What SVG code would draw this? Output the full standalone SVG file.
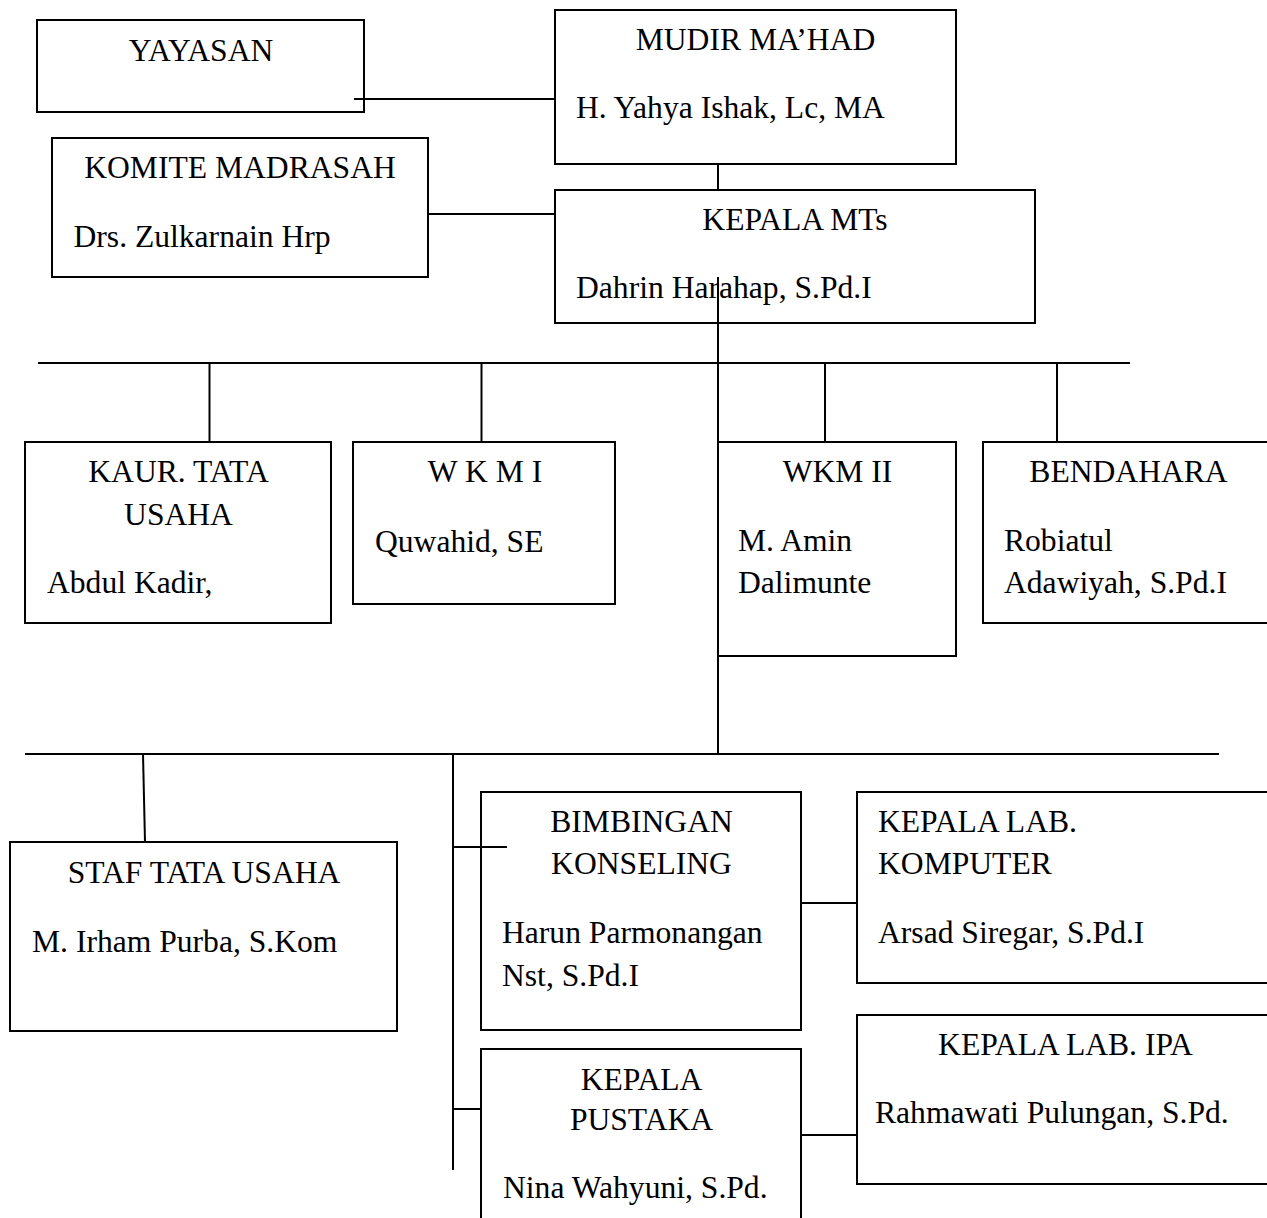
<svg xmlns="http://www.w3.org/2000/svg" width="1267" height="1218" viewBox="0 0 1267 1218">
<style>
rect.box{fill:#fff;stroke:#000;stroke-width:2}
#connectors line{stroke:#000;stroke-width:2}
text{font-family:"Liberation Serif","Times New Roman",serif;font-size:31.6px;fill:#000}
.c{text-anchor:middle}
</style>
<rect x="0" y="0" width="1267" height="1218" fill="#fff"/>
<g id="yayasan"><rect class="box" x="37" y="20" width="327" height="92"/><text class="c" x="201" y="61">YAYASAN</text></g>
<g id="mudir"><rect class="box" x="555" y="10" width="401" height="154"/><text class="c" x="755.5" y="50">MUDIR MA’HAD</text><text x="576" y="118">H. Yahya Ishak, Lc, MA</text></g>
<g id="komite"><rect class="box" x="52" y="138" width="376" height="139"/><text class="c" x="240" y="178">KOMITE MADRASAH</text><text x="73.5" y="247">Drs. Zulkarnain Hrp</text></g>
<g id="kepala-mts"><rect class="box" x="555" y="190" width="480" height="133"/><text class="c" x="795" y="230">KEPALA MTs</text><text x="576" y="298">Dahrin Harahap, S.Pd.I</text></g>
<g id="kaur"><rect class="box" x="25" y="442" width="306" height="181"/><text class="c" x="178.5" y="482">KAUR. TATA</text><text class="c" x="178.5" y="525">USAHA</text><text x="47" y="593">Abdul Kadir,</text></g>
<g id="wkm1"><rect class="box" x="353" y="442" width="262" height="162"/><text class="c" x="485" y="482">W K M I</text><text x="375" y="552">Quwahid, SE</text></g>
<g id="wkm2"><rect class="box" x="718" y="442" width="238" height="214"/><text class="c" x="837.5" y="482">WKM II</text><text x="738" y="551">M. Amin</text><text x="738" y="593">Dalimunte</text></g>
<g id="bendahara"><rect class="box" x="983" y="442" width="300" height="181"/><text class="c" x="1128.5" y="482">BENDAHARA</text><text x="1004" y="551">Robiatul</text><text x="1004" y="593">Adawiyah, S.Pd.I</text></g>
<g id="staf-tu"><rect class="box" x="10" y="842" width="387" height="189"/><text class="c" x="204" y="883">STAF TATA USAHA</text><text x="32" y="952">M. Irham Purba, S.Kom</text></g>
<g id="bk"><rect class="box" x="481" y="792" width="320" height="238"/><text class="c" x="641.5" y="832">BIMBINGAN</text><text class="c" x="641.5" y="874">KONSELING</text><text x="502" y="943">Harun Parmonangan</text><text x="502" y="986">Nst, S.Pd.I</text></g>
<g id="lab-komputer"><rect class="box" x="857" y="792" width="430" height="191"/><text x="878" y="832">KEPALA LAB.</text><text x="878" y="874">KOMPUTER</text><text x="878" y="943">Arsad Siregar, S.Pd.I</text></g>
<g id="pustaka"><rect class="box" x="481" y="1049" width="320" height="200"/><text class="c" x="641.5" y="1090">KEPALA</text><text class="c" x="641.5" y="1130">PUSTAKA</text><text x="503" y="1198">Nina Wahyuni, S.Pd.</text></g>
<g id="lab-ipa"><rect class="box" x="857" y="1015" width="430" height="169"/><text class="c" x="1065.5" y="1055">KEPALA LAB. IPA</text><text x="875" y="1123">Rahmawati Pulungan, S.Pd.</text></g>
<g id="connectors">
<line x1="354" y1="99" x2="555" y2="99"/>
<line x1="428" y1="214" x2="555" y2="214"/>
<line x1="718" y1="164" x2="718" y2="190"/>
<line x1="718" y1="277" x2="718" y2="754"/>
<line x1="38" y1="363" x2="1130" y2="363"/>
<line x1="209.5" y1="363" x2="209.5" y2="442"/>
<line x1="481.5" y1="363" x2="481.5" y2="442"/>
<line x1="825" y1="363" x2="825" y2="442"/>
<line x1="1057" y1="363" x2="1057" y2="442"/>
<line x1="25" y1="754" x2="1219" y2="754"/>
<line x1="143" y1="754" x2="145" y2="842"/>
<line x1="453" y1="754" x2="453" y2="1170"/>
<line x1="453" y1="847" x2="507" y2="847"/>
<line x1="453" y1="1109" x2="481" y2="1109"/>
<line x1="801" y1="903" x2="857" y2="903"/>
<line x1="801" y1="1135" x2="857" y2="1135"/>
</g>
</svg>
